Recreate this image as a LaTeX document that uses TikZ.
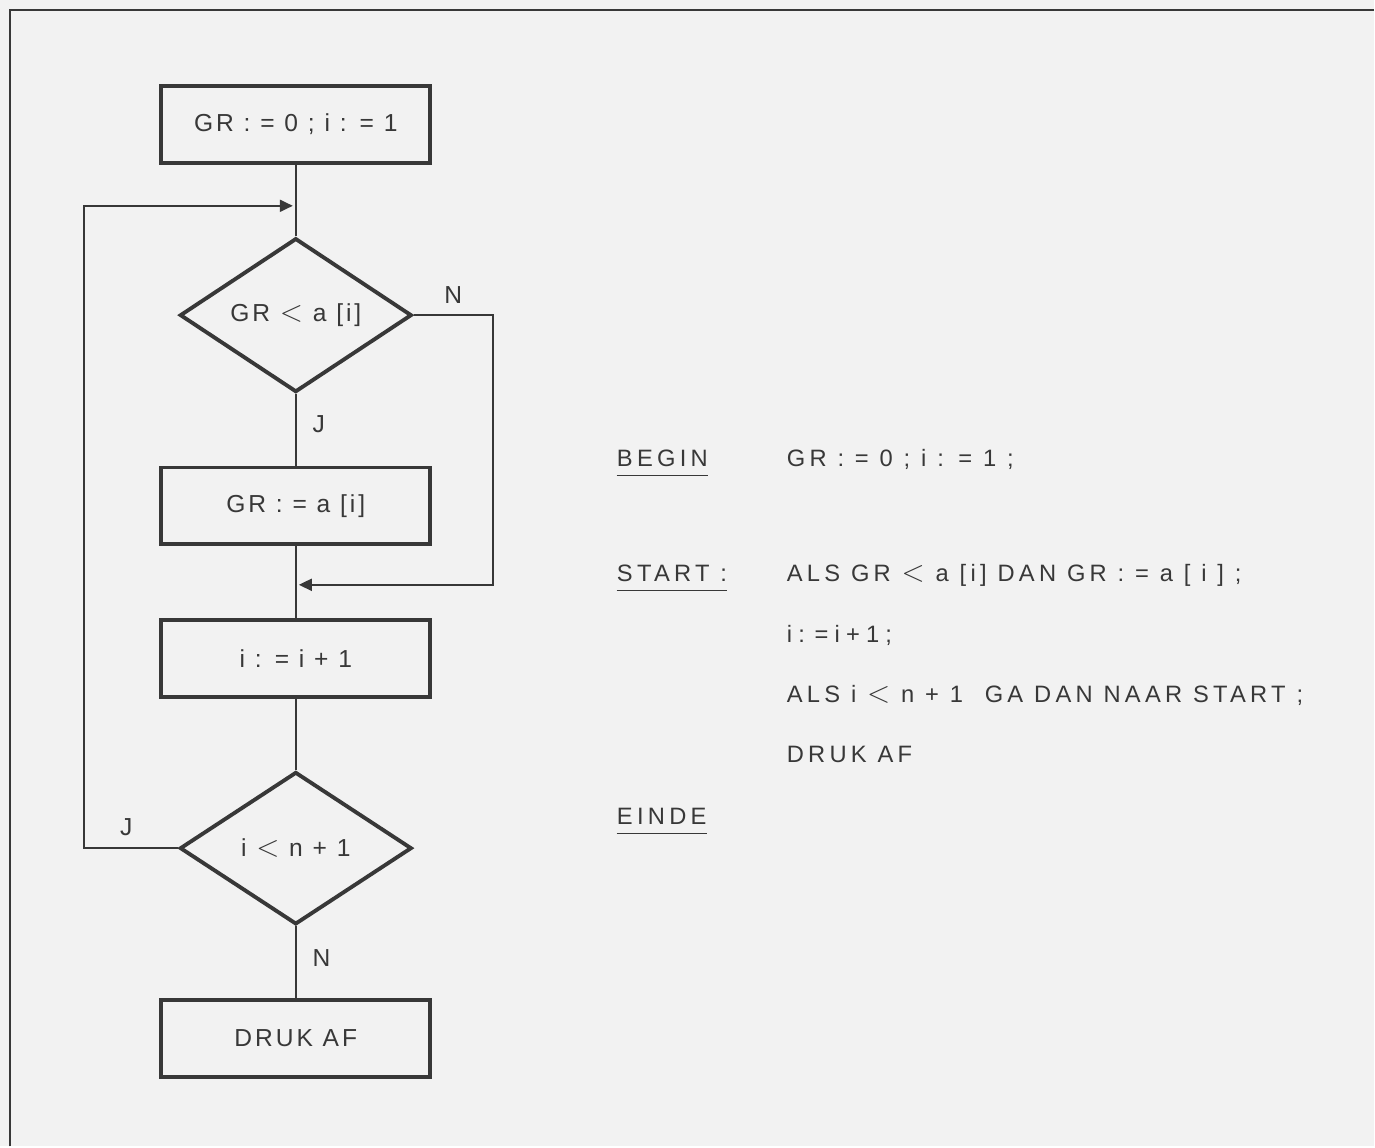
\documentclass[tikz,border=0pt]{standalone}
\usepackage{fontspec}
\setmainfont[LetterSpace=12]{Liberation Sans}
\usepackage{tikz}
\usetikzlibrary{positioning,arrows.meta,shapes.geometric}
\usepackage{xcolor}
\definecolor{paper}{HTML}{F2F2F2}
\definecolor{ink}{HTML}{383838}
\newcommand{\ltsign}{{\fontsize{19}{19}\selectfont$<$}}

\begin{document}
\begin{tikzpicture}[font=\fontsize{14}{17}\selectfont,text=ink,
    >={Triangle[length=2.6mm,width=2.4mm]},node distance=1.43cm,
    box/.style={draw=ink,line width=2.2pt,minimum width=5.38cm,minimum height=1.54cm},
    test/.style={diamond,draw=ink,line width=2.2pt,minimum width=4.64cm,
                 minimum height=3.05cm,inner sep=0pt},
    flow/.style={draw=ink,line width=1.1pt},
    code/.style={anchor=base west,inner sep=0pt,
                 font=\fontsize{13.5}{16}\selectfont\addfontfeatures{LetterSpace=18}}]
  \fill[paper] (0,0) rectangle (27.5,-22.94);
  \draw[ink,line width=1pt] (0.2,-22.94) |- (27.5,-0.2);
  % flow chart
  \node[box] (init) at (5.92,-2.49) {GR : = 0 ; i : = 1};
  \node[test,below=of init] (cmp) {GR \ltsign{} a [i]};
  \node[box,below=of cmp] (setgr) {GR : = a [i]};
  \node[box,below=of setgr] (incr) {i : = i + 1};
  \node[test,below=of incr] (more) {i \ltsign{} n + 1};
  \node[box,below=of more] (print) {DRUK AF};
  \coordinate[below=0.82cm of init] (back);
  \coordinate[below=0.77cm of setgr] (skip);
  \draw[flow] (init) -- (cmp);
  \draw[flow] (cmp) -- node[right=0.2cm,pos=0.42]{J} (setgr);
  \draw[flow] (setgr) -- (incr);
  \draw[flow] (incr) -- (more);
  \draw[flow] (more) -- node[right=0.2cm,pos=0.45]{N} (print);
  \draw[flow,->,shorten >=0.6mm] (cmp.east) -- node[above=0.1cm,pos=0.5]{N} ++(1.58,0) |- (skip);
  \draw[flow,->,shorten >=0.6mm] (more.west) -- node[above=0.12cm,pos=0.55]{J} ++(-1.88,0) |- (back);
  % program text
  \node[code] (kwbegin) at (12.34,-9.34) {BEGIN};
  \node[code] (kwstart) at (12.34,-11.64) {START :};
  \node[code] (kwend) at (12.34,-16.5) {EINDE};
  \foreach \kw in {kwbegin,kwstart,kwend}
    \draw[ink,line width=0.8pt] ([yshift=-0.18cm]\kw.base west) -- ([yshift=-0.18cm]\kw.base east);
  \node[code] (st1) at (15.74,-9.34) {GR : = 0 ; i : = 1 ;};
  \node[code] (st2) at (15.74,-11.64) {ALS GR \ltsign{} a [i] DAN GR : = a [ i ] ;};
  \node[code] (st3) at (15.74,-12.86) {\spaceskip=0.26em\relax i : = i + 1 ;};
  \node[code] (st4) at (15.74,-14.06) {ALS i \ltsign{} n + 1~ GA DAN NAAR START ;};
  \node[code] (st5) at (15.74,-15.26) {DRUK AF};
\end{tikzpicture}
\end{document}
